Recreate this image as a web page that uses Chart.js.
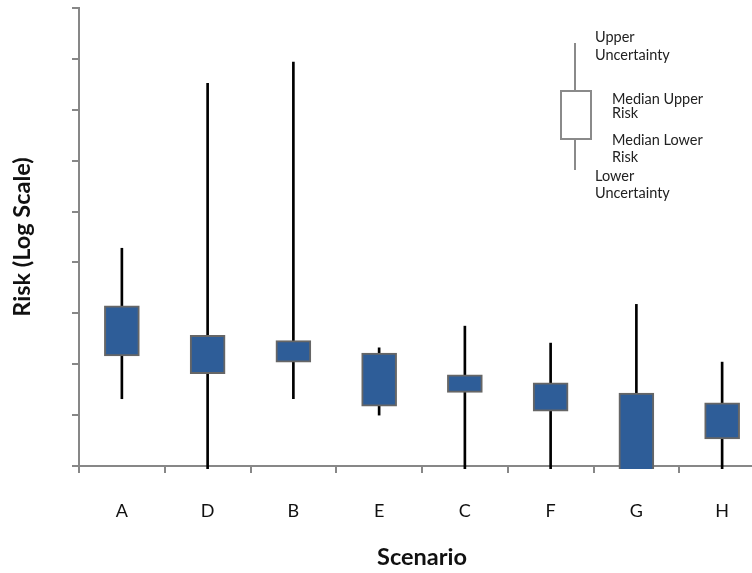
<!DOCTYPE html>
<html>
<head>
<meta charset="utf-8">
<script src="https://cdn.jsdelivr.net/npm/chart.js@4"></script>
<style>
    html, body { margin: 0; padding: 0; background: #fff; }
    #wrap { width: 752px; height: 573px; overflow: hidden; }
</style>
</head>
<body>
<div id="wrap"><canvas id="chart1" width="765" height="573"></canvas></div>
<script>
    /*===================================================================================*/
    /*  data
    /*===================================================================================*/
    var scenarios  = ['A', 'D', 'B', 'E', 'C', 'F', 'G', 'H'];
    // lower / upper uncertainty (whiskers)
    var lowerUnc   = [2.1e-8, 1e-10, 2.1e-8, 1.0e-8, 1e-10, 1e-10, 1e-10, 1e-10];
    var upperUnc   = [1.9e-5, 3.3e-2, 8.7e-2, 2.1e-7, 5.6e-7, 2.6e-7, 1.5e-6, 1.1e-7];
    // median lower / upper risk (boxes)
    var medLower   = [1.45e-7, 6.5e-8, 1.1e-7, 1.5e-8, 2.8e-8, 1.2e-8, 1e-10, 3.4e-9];
    var medUpper   = [1.4e-6, 3.7e-7, 2.9e-7, 1.66e-7, 6.2e-8, 4.3e-8, 2.7e-8, 1.74e-8];
    // decade ticks on the log axis (no labels shown)
    var yTicks     = [1e-9, 1e-8, 1e-7, 1e-6, 1e-5, 1e-4, 1e-3, 1e-2, 1e-1, 1];

    var axisGrey = '#878787';

    // legend key in the top right corner
    var keyPlugin = {
        id: 'boxKey',
        afterDraw: function(chart) {
            var ctx = chart.ctx;
            ctx.save();
            ctx.strokeStyle = '#8a8a8a';
            ctx.lineWidth = 2;
            ctx.beginPath();
            ctx.moveTo(575, 43);  ctx.lineTo(575, 91);
            ctx.moveTo(575, 139); ctx.lineTo(575, 170);
            ctx.stroke();
            ctx.strokeRect(561, 91, 30, 48);

            ctx.fillStyle = '#222';
            ctx.font = '14.5px Lato';
            ctx.textAlign = 'left';
            ctx.textBaseline = 'middle';
            ctx.fillText('Upper', 595, 37);
            ctx.fillText('Uncertainty', 595, 55);
            ctx.fillText('Median Upper', 612, 99);
            ctx.fillText('Risk', 612, 113);
            ctx.fillText('Median Lower', 612, 140);
            ctx.fillText('Risk', 612, 157);
            ctx.fillText('Lower', 595, 176);
            ctx.fillText('Uncertainty', 595, 193);
            ctx.restore();
        }
    };

    var ctx = document.getElementById('chart1');
    var myChart = new Chart(ctx, {
        type: 'bar',
        data: {
            labels: scenarios,
            datasets: [{
                label: 'Uncertainty',
                data: scenarios.map(function(s, i) { return [lowerUnc[i], upperUnc[i]]; }),
                backgroundColor: '#000',
                borderWidth: 0,
                barThickness: 2,
                grouped: false,
                order: 2,
                clip: {left: 0, top: 0, right: 0, bottom: 3}
            }, {
                label: 'Median Risk',
                data: scenarios.map(function(s, i) { return [medLower[i], medUpper[i]]; }),
                backgroundColor: '#2E5D98',
                borderColor: '#666',
                borderWidth: 2,
                borderSkipped: false,
                barThickness: 35,
                grouped: false,
                order: 1,
                clip: {left: 0, top: 0, right: 0, bottom: 3}
            }]
        },
        options: {
            responsive: false,
            animation: false,
            layout: { padding: { top: 8, left: 0, right: 0, bottom: 0 } },
            plugins: {
                legend: { display: false },
                tooltip: { enabled: false }
            },
            scales: {
                x: {
                    grid: { display: true, drawOnChartArea: false, drawTicks: true, tickLength: 7, color: axisGrey, lineWidth: 2, offset: true },
                    border: { display: true, color: axisGrey, width: 2 },
                    ticks: { color: '#111', padding: 27, font: { family: 'Lato', size: 18 } },
                    title: { display: true, text: 'Scenario', color: '#111', padding: { top: 0, bottom: 1 }, font: { family: 'Lato', size: 23.5, weight: 'bold' } },
                    afterFit: function(scale) { scale.height = 107; }
                },
                y: {
                    type: 'logarithmic',
                    min: 1e-9,
                    max: 1,
                    grid: { display: true, drawOnChartArea: false, drawTicks: true, tickLength: 7, color: axisGrey, lineWidth: 2 },
                    border: { display: true, color: axisGrey, width: 2 },
                    ticks: { display: false },
                    afterBuildTicks: function(scale) {
                        scale.ticks = yTicks.map(function(v) { return { value: v }; });
                    },
                    title: { display: true, text: 'Risk (Log Scale)', color: '#111', padding: { top: 8, bottom: 0 }, font: { family: 'Lato', size: 23.5, weight: 'bold' } },
                    afterFit: function(scale) { scale.width = 79; }
                }
            }
        },
        plugins: [keyPlugin]
    });
</script>
</body>
</html>
